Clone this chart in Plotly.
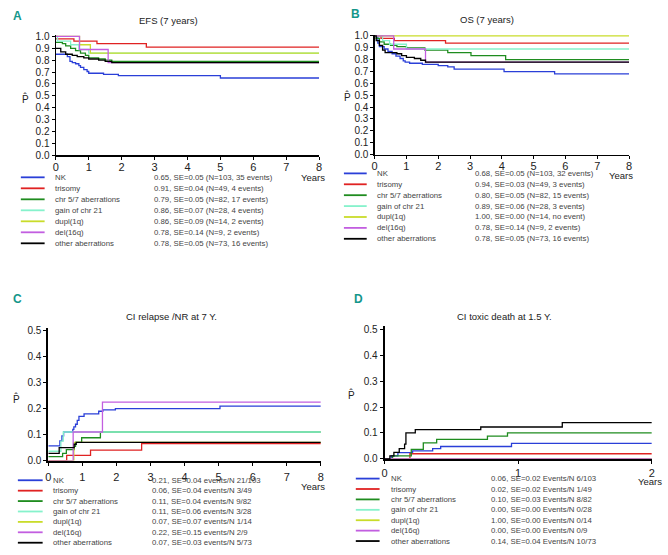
import plotly.graph_objects as go

W, H = 668, 555

GROUPS = ["NK", "trisomy", "chr 5/7 aberrations", "gain of chr 21", "dupl(1q)", "del(16q)", "other aberrations"]
COLORS = ["#2a3fd8", "#e02222", "#1f8c1f", "#86f2cc", "#c9dc2a", "#c25ee0", "#000000"]

# ---------- Panel A: EFS ----------
efs_nk_t = [0, 0.35, 0.43, 0.5, 0.6, 0.7, 0.75, 0.85, 0.95, 1.0, 1.45, 1.9, 5.0]
efs_nk_p = [0.85, 0.83, 0.79, 0.78, 0.77, 0.755, 0.74, 0.72, 0.705, 0.69, 0.68, 0.67, 0.65]
efs_tri_t = [0, 0.55, 1.25, 2.75]
efs_tri_p = [0.98, 0.96, 0.94, 0.91]
efs_chr_t = [0, 0.2, 0.3, 0.45, 0.6, 0.75, 0.9, 1.0, 1.3, 1.5, 1.7]
efs_chr_p = [0.95, 0.94, 0.92, 0.90, 0.88, 0.86, 0.84, 0.82, 0.81, 0.80, 0.79]
efs_gain_t = [0, 0.05, 0.45, 0.7, 1.0]
efs_gain_p = [1.0, 0.96, 0.93, 0.89, 0.86]
efs_dupl_t = [0, 0.72, 1.05]
efs_dupl_p = [1.0, 0.93, 0.86]
efs_del_t = [0, 0.72, 1.59]
efs_del_p = [1.0, 0.89, 0.78]
efs_oth_t = [0, 0.15, 0.3, 0.5, 0.65, 0.85, 1.0, 1.3, 1.5, 1.7]
efs_oth_p = [0.90, 0.87, 0.85, 0.84, 0.83, 0.82, 0.81, 0.80, 0.79, 0.78]

# ---------- Panel B: OS ----------
os_nk_t = [0, 0.1, 0.15, 0.3, 0.42, 0.55, 0.67, 0.8, 0.9, 0.96, 1.1, 1.5, 2.0, 2.3, 2.5, 4.07, 5.66]
os_nk_p = [1.0, 0.94, 0.91, 0.89, 0.87, 0.85, 0.83, 0.81, 0.79, 0.78, 0.77, 0.76, 0.75, 0.74, 0.72, 0.70, 0.68]
os_tri_t = [0, 0.2, 0.62, 2.23]
os_tri_p = [1.0, 0.98, 0.96, 0.94]
os_chr_t = [0, 0.05, 0.15, 0.3, 0.5, 0.7, 1.0, 1.58, 2.3, 3.03, 4.12]
os_chr_p = [1.0, 0.98, 0.95, 0.93, 0.92, 0.91, 0.90, 0.88, 0.86, 0.835, 0.80]
os_gain_t = [0, 0.25, 0.47, 1.0]
os_gain_p = [1.0, 0.96, 0.93, 0.89]
os_dupl_t = [0]
os_dupl_p = [1.0]
os_del_t = [0, 0.6, 1.6]
os_del_p = [1.0, 0.89, 0.78]
os_oth_t = [0, 0.05, 0.15, 0.25, 0.33, 0.7, 0.85, 1.0, 1.25, 1.45, 1.6]
os_oth_p = [1.0, 0.96, 0.92, 0.88, 0.86, 0.85, 0.835, 0.82, 0.81, 0.795, 0.78]

# ---------- Panel C: CI relapse / NR ----------
rel_nk_t = [0, 0.34, 0.4, 0.45, 0.72, 0.75, 0.8, 0.85, 0.9, 1.05, 1.48, 1.6, 1.97, 5.04]
rel_nk_p = [0.057, 0.076, 0.095, 0.11, 0.12, 0.13, 0.14, 0.155, 0.17, 0.18, 0.19, 0.195, 0.20, 0.21]
rel_tri_t = [0, 0.54, 1.24, 2.74]
rel_tri_p = [0.0, 0.02, 0.04, 0.065]
rel_chr_t = [0, 0.42, 0.53, 0.76, 0.8, 0.98, 1.53]
rel_chr_p = [0.015, 0.028, 0.042, 0.055, 0.07, 0.088, 0.11]
rel_gain_t = [0, 0.37, 0.44]
rel_gain_p = [0.036, 0.075, 0.11]
rel_dupl_t = [0, 0.75]
rel_dupl_p = [0.0, 0.07]
rel_del_t = [0, 0.73, 1.59]
rel_del_p = [0.0, 0.11, 0.225]
rel_oth_t = [0, 0.32, 0.76, 0.82]
rel_oth_p = [0.028, 0.05, 0.063, 0.07]

# ---------- Panel D: CI toxic death ----------
tox_nk_t = [0, 0.05, 0.1, 0.21, 0.36, 0.42, 0.95]
tox_nk_p = [0.0, 0.012, 0.024, 0.031, 0.04, 0.048, 0.06]
tox_tri_t = [0, 0.19]
tox_tri_p = [0.0, 0.02]
tox_chr_t = [0, 0.06, 0.2, 0.29, 0.39, 0.77, 0.92]
tox_chr_p = [0.0, 0.012, 0.037, 0.062, 0.075, 0.088, 0.10]
tox_gain_t = [0]
tox_gain_p = [0.0]
tox_dupl_t = [0]
tox_dupl_p = [0.0]
tox_del_t = [0]
tox_del_p = [0.0]
tox_oth_t = [0, 0.04, 0.07, 0.11, 0.15, 0.16, 0.23, 0.72, 1.33]
tox_oth_p = [0.0, 0.012, 0.025, 0.04, 0.057, 0.10, 0.113, 0.123, 0.14]

# ---------- legend statistics ----------
efs_stats = ["0.65, SE=0.05 (N=103, 35 events)", "0.91, SE=0.04 (N=49, 4 events)",
             "0.79, SE=0.05 (N=82, 17 events)", "0.86, SE=0.07 (N=28, 4 events)",
             "0.86, SE=0.09 (N=14, 2 events)", "0.78, SE=0.14 (N=9, 2 events)",
             "0.78, SE=0.05 (N=73, 16 events)"]
os_stats = ["0.68, SE=0.05 (N=103, 32 events)", "0.94, SE=0.03 (N=49, 3 events)",
            "0.80, SE=0.05 (N=82, 15 events)", "0.89, SE=0.06 (N=28, 3 events)",
            "1.00, SE=0.00 (N=14, no event)", "0.78, SE=0.14 (N=9, 2 events)",
            "0.78, SE=0.05 (N=73, 16 events)"]
rel_stats = ["0.21, SE=0.04 events/N 21/103", "0.06, SE=0.04 events/N 3/49",
             "0.11, SE=0.04 events/N 9/82", "0.11, SE=0.06 events/N 3/28",
             "0.07, SE=0.07 events/N 1/14", "0.22, SE=0.15 events/N 2/9",
             "0.07, SE=0.03 events/N 5/73"]
tox_stats = ["0.06, SE=0.02 Events/N 6/103", "0.02, SE=0.02 Events/N 1/49",
             "0.10, SE=0.03 Events/N 8/82", "0.00, SE=0.00 Events/N 0/28",
             "1.00, SE=0.00 Events/N 0/14", "0.00, SE=0.00 Events/N 0/9",
             "0.14, SE=0.04 Events/N 10/73"]

PANELS = [
    dict(key="", letter="A", title="EFS (7 years)", xmax=8, ymax=1.0, ydt=0.1,
         series=[(efs_nk_t, efs_nk_p), (efs_tri_t, efs_tri_p), (efs_chr_t, efs_chr_p), (efs_gain_t, efs_gain_p),
                 (efs_dupl_t, efs_dupl_p), (efs_del_t, efs_del_p), (efs_oth_t, efs_oth_p)],
         stats=efs_stats, box=(53.3, 319.0, 31.6, 154.0), lw=1.3, xstand=-2,
         letter_pos=(8, 12), title_pos=(167, 17), p_pos=(22.5, 96), years_pos=(313, 177),
         leg_line=(18, 42), leg_name=50, leg_stat=150, leg_y0=176.5, leg_dy=11.2),
    dict(key="2", letter="B", title="OS (7 years)", xmax=8, ymax=1.0, ydt=0.1,
         series=[(os_nk_t, os_nk_p), (os_tri_t, os_tri_p), (os_chr_t, os_chr_p), (os_gain_t, os_gain_p),
                 (os_dupl_t, os_dupl_p), (os_del_t, os_del_p), (os_oth_t, os_oth_p)],
         stats=os_stats, box=(375.0, 631.7, 31.1, 153.3), lw=1.3, xstand=-2,
         letter_pos=(349, 10), title_pos=(488, 16), p_pos=(347.5, 94), years_pos=(624, 175),
         leg_line=(344, 367), leg_name=375, leg_stat=474, leg_y0=172.5, leg_dy=11.1),
    dict(key="3", letter="C", title="CI relapse /NR at 7 Y.", xmax=8, ymax=0.5, ydt=0.1,
         series=[(rel_nk_t, rel_nk_p), (rel_tri_t, rel_tri_p), (rel_chr_t, rel_chr_p), (rel_gain_t, rel_gain_p),
                 (rel_dupl_t, rel_dupl_p), (rel_del_t, rel_del_p), (rel_oth_t, rel_oth_p)],
         stats=rel_stats, box=(45.7, 320.7, 330.0, 465.0), lw=1.9, xstand=2,
         letter_pos=(8, 300), title_pos=(170, 318), p_pos=(13.5, 402), years_pos=(313, 491),
         leg_line=(15, 40), leg_name=48, leg_stat=148, leg_y0=485, leg_dy=10.6),
    dict(key="4", letter="D", title="CI toxic death at 1.5 Y.", xmax=2, ymax=0.5, ydt=0.1,
         series=[(tox_nk_t, tox_nk_p), (tox_tri_t, tox_tri_p), (tox_chr_t, tox_chr_p), (tox_gain_t, tox_gain_p),
                 (tox_dupl_t, tox_dupl_p), (tox_del_t, tox_del_p), (tox_oth_t, tox_oth_p)],
         stats=tox_stats, box=(385.0, 654.7, 328.4, 463.3), lw=1.9, xstand=0,
         letter_pos=(352, 300), title_pos=(506, 318), p_pos=(352, 398), years_pos=(652.5, 486),
         leg_line=(356, 380), leg_name=390, leg_stat=490, leg_y0=483.3, leg_dy=10.6),
]

FONT = "Liberation Sans, Arial, sans-serif"


def px(x):
    return x / W


def py(y):
    return 1 - y / H


fig = go.Figure()
layout = dict(width=W, height=H, margin=dict(l=0, r=0, t=0, b=0), paper_bgcolor="white",
              plot_bgcolor="white", showlegend=False, hovermode=False,
              font=dict(family=FONT, color="#222"))
annotations = []
shapes = []

for pnl in PANELS:
    k = pnl["key"]
    x0, x1, ytop, ybot = pnl["box"]
    scale_top = 1.012 if pnl["ymax"] == 1.0 else 0.51
    xa = "xaxis" + k
    ya = "yaxis" + k
    ytickvals = [round(i * pnl["ydt"], 1) for i in range(int(round(pnl["ymax"] / pnl["ydt"])) + 1)]
    layout[xa] = dict(domain=[px(x0), px(x1)], range=[0, pnl["xmax"]], anchor="y" + k,
                      showline=True, linecolor="black", linewidth=pnl["lw"], ticks="outside",
                      ticklen=3, tickwidth=1, tickcolor="black", showgrid=False, zeroline=False,
                      tickmode="linear", tick0=0, dtick=1, ticklabelstandoff=pnl["xstand"],
                      tickfont=dict(size=11, color="#222", family=FONT), fixedrange=True)
    layout[ya] = dict(domain=[py(ybot), py(ytop)], range=[0, scale_top], anchor="x" + k,
                      showline=True, linecolor="black", linewidth=pnl["lw"], ticks="outside",
                      ticklen=3, tickwidth=1, tickcolor="black", showgrid=False, zeroline=False,
                      tickvals=ytickvals, ticktext=["%.1f" % v for v in ytickvals],
                      tickfont=dict(size=10, color="#222", family=FONT), fixedrange=True)
    for i, (t, p) in enumerate(pnl["series"]):
        fig.add_trace(go.Scatter(x=list(t) + [pnl["xmax"]], y=list(p) + [p[-1]], mode="lines",
                                 line=dict(color=COLORS[i], width=1.3, shape="hv"),
                                 xaxis="x" + k, yaxis="y" + k, name=GROUPS[i], hoverinfo="skip"))
    lx, ly = pnl["letter_pos"]
    annotations.append(dict(x=px(lx), y=py(ly), xref="paper", yref="paper", text="<b>%s</b>" % pnl["letter"],
                            showarrow=False, xanchor="left", yanchor="middle",
                            font=dict(size=12, color="#14968a", family=FONT)))
    tx, ty = pnl["title_pos"]
    annotations.append(dict(x=px(tx), y=py(ty), xref="paper", yref="paper", text=pnl["title"],
                            showarrow=False, xanchor="center", yanchor="middle",
                            font=dict(size=9.5, color="#222", family=FONT)))
    ppx, ppy = pnl["p_pos"]
    annotations.append(dict(x=px(ppx), y=py(ppy), xref="paper", yref="paper", text="P\u0302",
                            showarrow=False, xanchor="center", yanchor="middle",
                            font=dict(size=10, color="#222", family=FONT)))
    yx, yy = pnl["years_pos"]
    annotations.append(dict(x=px(yx), y=py(yy), xref="paper", yref="paper", text="Years",
                            showarrow=False, xanchor="center", yanchor="middle",
                            font=dict(size=9.5, color="#222", family=FONT)))
    la, lb = pnl["leg_line"]
    for i, name in enumerate(GROUPS):
        yrow = pnl["leg_y0"] + i * pnl["leg_dy"]
        shapes.append(dict(type="line", xref="paper", yref="paper", x0=px(la), x1=px(lb),
                           y0=py(yrow), y1=py(yrow), line=dict(color=COLORS[i], width=1.8)))
        annotations.append(dict(x=px(pnl["leg_name"]), y=py(yrow), xref="paper", yref="paper", text=name,
                                showarrow=False, xanchor="left", yanchor="middle",
                                font=dict(size=7.8, color="#444", family=FONT)))
        annotations.append(dict(x=px(pnl["leg_stat"]), y=py(yrow), xref="paper", yref="paper",
                                text=pnl["stats"][i], showarrow=False, xanchor="left", yanchor="middle",
                                font=dict(size=7.8, color="#444", family=FONT)))

layout["annotations"] = annotations
layout["shapes"] = shapes
fig.update_layout(**layout)
# remove the browser's default 8px body margin so the 668x555 figure fills the window exactly
fig.write_html("out.html", config={"displayModeBar": False, "staticPlot": True},
               post_script="document.body.style.margin='0';")
